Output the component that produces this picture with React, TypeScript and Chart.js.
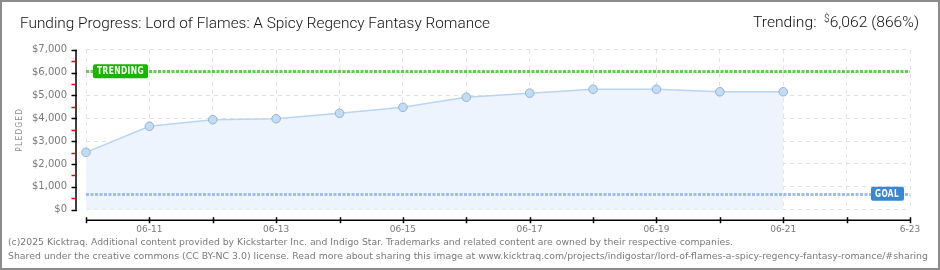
import React, { useEffect, useLayoutEffect, useRef } from 'react';
import { Chart, registerables } from 'chart.js';

Chart.register(...registerables);

const titleText = 'Funding Progress: Lord of Flames: A Spicy Regency Fantasy Romance';
const dayLabels = ['06-10', '06-11', '06-12', '06-13', '06-14', '06-15', '06-16', '06-17', '06-18', '06-19', '06-20', '06-21', '06-22', '6-23'];
const pledged = [2510, 3650, 3940, 3980, 4220, 4480, 4920, 5100, 5270, 5270, 5160, 5160];
const yTickValues = [0, 1000, 2000, 3000, 4000, 5000, 6000, 7000];
const trendingValue = 6062;
const trendingPercent = 866;
const goalValue = 700;
const footerLines = [
  '(c)2025 Kicktraq. Additional content provided by Kickstarter Inc. and Indigo Star. Trademarks and related content are owned by their respective companies.',
  'Shared under the creative commons (CC BY-NC 3.0) license. Read more about sharing this image at www.kicktraq.com/projects/indigostar/lord-of-flames-a-spicy-regency-fantasy-romance/#sharing',
];

const fmtMoney = (v: number) => '$' + v.toLocaleString('en-US');

function FitText(props: { left: number; top: number; width: number; font: string; color: string; children: any }) {
  const ref = useRef<HTMLSpanElement>(null);
  useLayoutEffect(() => {
    const el = ref.current;
    if (!el) return;
    el.style.transform = 'none';
    const w = el.getBoundingClientRect().width;
    if (w > 0) el.style.transform = `scaleX(${props.width / w})`;
  }, []);
  return (
    <span
      ref={ref}
      style={{
        position: 'absolute',
        left: props.left,
        top: props.top,
        whiteSpace: 'nowrap',
        transformOrigin: '0 0',
        font: props.font,
        lineHeight: 1,
        color: props.color,
      }}
    >
      {props.children}
    </span>
  );
}

function drawBox(ctx: CanvasRenderingContext2D, x: number, y: number, w: number, h: number, color: string, text: string, tw: number) {
  ctx.save();
  ctx.setLineDash([]);
  ctx.fillStyle = color;
  ctx.beginPath();
  (ctx as any).roundRect(x, y, w, h, 2);
  ctx.fill();
  ctx.fillStyle = '#ffffff';
  ctx.font = 'bold 10px "DejaVu Sans"';
  (ctx as any).letterSpacing = '0.5px';
  ctx.textBaseline = 'middle';
  ctx.textAlign = 'left';
  ctx.fillText(text, x + 4, y + h / 2 + 0.5, tw);
  ctx.restore();
}

const decorPlugin = {
  id: 'decor',
  afterDatasetsDraw(chart: any) {
    const { ctx, chartArea: ca, scales } = chart;
    const x = scales.x;
    const y = scales.y;
    const lines = [
      { v: trendingValue, color: '#62cc52' },
      { v: goalValue, color: '#9dbfe6' },
    ];
    ctx.save();
    for (const l of lines) {
      const py = Math.round(y.getPixelForValue(l.v)) + 0.5;
      ctx.strokeStyle = l.color;
      ctx.lineWidth = 3;
      ctx.setLineDash([3, 1.5]);
      ctx.beginPath();
      ctx.moveTo(ca.left, py);
      ctx.lineTo(ca.right, py);
      ctx.stroke();
    }
    ctx.restore();
    const ty = y.getPixelForValue(trendingValue);
    drawBox(ctx, ca.left + 7, ty - 7, 55, 14, '#1ab402', 'TRENDING', 47);
    const gy = y.getPixelForValue(goalValue);
    drawBox(ctx, ca.right - 39, gy - 7, 33, 14, '#3a86d6', 'GOAL', 24);

    // y axis
    ctx.save();
    ctx.setLineDash([]);
    const axX = ca.left - 10;
    ctx.strokeStyle = '#000';
    ctx.lineWidth = 1.5;
    ctx.beginPath();
    ctx.moveTo(axX, y.getPixelForValue(7000));
    ctx.lineTo(axX, y.getPixelForValue(0));
    ctx.stroke();
    for (const v of yTickValues) {
      const py = Math.round(y.getPixelForValue(v)) + 0.5;
      ctx.strokeStyle = '#000';
      ctx.beginPath();
      ctx.moveTo(axX - 4.5, py);
      ctx.lineTo(axX + 1, py);
      ctx.stroke();
      if (v < 7000) {
        const my = Math.round(y.getPixelForValue(v + 500)) + 0.5;
        ctx.strokeStyle = '#e00000';
        ctx.beginPath();
        ctx.moveTo(axX - 4.5, my);
        ctx.lineTo(axX, my);
        ctx.stroke();
      }
    }
    // x axis
    const axY = ca.bottom + 10.5;
    ctx.strokeStyle = '#000';
    ctx.lineWidth = 1.5;
    ctx.beginPath();
    ctx.moveTo(ca.left, axY);
    ctx.lineTo(ca.right, axY);
    ctx.stroke();
    for (let i = 0; i < dayLabels.length; i++) {
      const px = Math.round(x.getPixelForValue(i)) + 0.5;
      ctx.beginPath();
      ctx.moveTo(px, axY - 3);
      ctx.lineTo(px, axY + 3);
      ctx.stroke();
    }
    // y title
    ctx.translate(20, (ca.top + ca.bottom) / 2);
    ctx.rotate(-Math.PI / 2);
    ctx.fillStyle = '#8a8a8a';
    ctx.font = '9px "DejaVu Sans"';
    (ctx as any).letterSpacing = '1.5px';
    ctx.textAlign = 'center';
    ctx.textBaseline = 'middle';
    ctx.fillText('PLEDGED', 0, 0, 44);
    ctx.restore();
  },
};

export default function App() {
  const canvasRef = useRef<HTMLCanvasElement>(null);

  useEffect(() => {
    const canvas = canvasRef.current;
    if (!canvas) return;
    const chart = new Chart(canvas, {
      type: 'line',
      data: {
        labels: dayLabels,
        datasets: [
          {
            data: pledged,
            borderColor: '#b9d5f2',
            borderWidth: 1.5,
            backgroundColor: '#edf4fd',
            fill: 'origin',
            tension: 0,
            pointRadius: 4.3,
            pointBackgroundColor: '#c3dcf6',
            pointBorderColor: '#9ab2cd',
            pointBorderWidth: 1,
          },
        ],
      },
      options: {
        responsive: false,
        animation: false,
        events: [],
        layout: { padding: { top: 49.7, right: 30, left: 0, bottom: 0 } },
        plugins: { legend: { display: false }, tooltip: { enabled: false }, title: { display: false } },
        scales: {
          x: {
            type: 'category',
            offset: false,
            afterFit: (s: any) => {
              s.height = 60.3;
            },
            border: { display: false, dash: [4, 4] },
            grid: { color: '#e2e2e2', lineWidth: 1, drawTicks: false },
            ticks: {
              autoSkip: false,
              maxRotation: 0,
              padding: 15,
              color: '#7a7a7a',
              font: { family: '"DejaVu Sans"', size: 9 },
              callback: (_v: any, i: number) => (i % 2 === 1 ? dayLabels[i] : ''),
            },
          },
          y: {
            min: 0,
            max: 7000,
            afterFit: (s: any) => {
              s.width = 86;
            },
            afterBuildTicks: (s: any) => {
              s.ticks = yTickValues.map((v) => ({ value: v }));
            },
            border: { display: false, dash: [4, 4] },
            grid: { color: '#e2e2e2', lineWidth: 1, drawTicks: false },
            ticks: {
              padding: 19,
              color: '#7a7a7a',
              font: { family: '"DejaVu Sans"', size: 10 },
              callback: (v: any) => fmtMoney(Number(v)),
            },
          },
        },
      },
      plugins: [decorPlugin],
    } as any);
    return () => chart.destroy();
  }, []);

  return (
    <div style={{ position: 'fixed', left: 0, top: 0, width: 940, height: 270, background: '#fff', overflow: 'hidden' }}>
      <canvas ref={canvasRef} width={940} height={270} style={{ position: 'absolute', left: 0, top: 0, width: 940, height: 270 }} />
      <FitText left={20} top={16} width={470} font='300 15.5px Roboto' color='#111'>
        {titleText}
      </FitText>
      <FitText left={753} top={14} width={166} font='300 15.5px Roboto' color='#111'>
        Trending:&nbsp;&nbsp;<span style={{ fontSize: '10px', verticalAlign: '5px' }}>$</span>
        {trendingValue.toLocaleString('en-US')} ({trendingPercent}%)
      </FitText>
      <FitText left={8} top={238} width={725} font='9px "DejaVu Sans"' color='#7a7a7a'>
        {footerLines[0]}
      </FitText>
      <FitText left={8} top={252} width={920} font='9px "DejaVu Sans"' color='#7a7a7a'>
        {footerLines[1]}
      </FitText>
      <div style={{ position: 'absolute', inset: 0, border: '2px solid #8c8c8c', pointerEvents: 'none' }} />
    </div>
  );
}
